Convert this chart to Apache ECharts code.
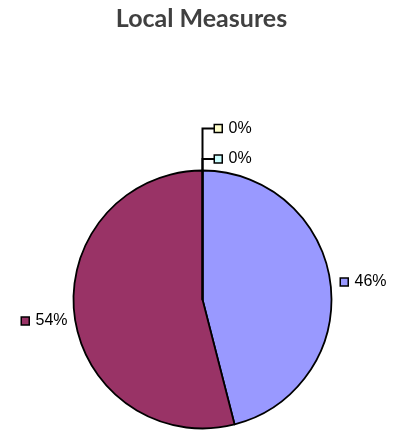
<!DOCTYPE html>
<html><head><meta charset="utf-8">
<script src="https://cdn.jsdelivr.net/npm/echarts@6/dist/echarts.min.js"></script>
<style>html,body{margin:0;padding:0;background:#fff}#c{width:403px;height:438px}</style>
</head><body><div id="c"></div>
<script>
const categories = ['Category 1', 'Category 2', 'Category 3', 'Category 4'];
const values = [46, 54, 0, 0];
const labels = ['46%', '54%', '0%', '0%'];
const colors = ['#9999FF', '#993366', '#FFFFCC', '#CCFFFF'];

const chart = echarts.init(document.getElementById('c'));
const labelPos = [
  {x: 341, y: 282},
  {x: 22, y: 321},
  {x: 215, y: 128.5},
  {x: 215, y: 159}
];
chart.setOption({
  animation: false,
  title: {
    text: 'Local Measures', left: 'center', top: 1,
    textStyle: {fontFamily: 'Lato', fontWeight: 'bold', fontSize: 25, color: '#404040'}
  },
  series: [{
    type: 'pie',
    center: [202.5, 299.5],
    radius: 129,
    startAngle: 90,
    clockwise: true,
    stillShowZeroSum: true,
    minShowLabelAngle: -1,
    itemStyle: {borderColor: '#000', borderWidth: 1.8},
    label: {
      show: true,
      overflow: 'none',
      formatter: p => '{sq|}{g|}' + labels[p.dataIndex],
      fontFamily: 'Liberation Sans', fontSize: 16, color: '#000',
      rich: {
        sq: {width: 6.5, height: 6.5, borderColor: '#000', borderWidth: 1.5},
        g: {width: 7}
      }
    },
    labelLine: {show: false, lineStyle: {color: '#000', width: 2}, length: 10, length2: 10},
    labelLayout: function (p) {
      const i = p.dataIndex;
      const pos = labelPos[i];
      const r = {x: pos.x, y: pos.y, align: 'left', verticalAlign: 'middle'};
      if (i >= 2) {
        r.labelLinePoints = [[202.5, 170.5], [202.5, pos.y], [pos.x, pos.y]];
      }
      return r;
    },
    emphasis: {disabled: true},
    data: categories.map((c, i) => ({
      name: c, value: values[i],
      itemStyle: {color: colors[i]},
      label: {rich: {sq: {backgroundColor: colors[i]}}},
      labelLine: {show: i >= 2}
    }))
  }]
});
</script></body></html>
